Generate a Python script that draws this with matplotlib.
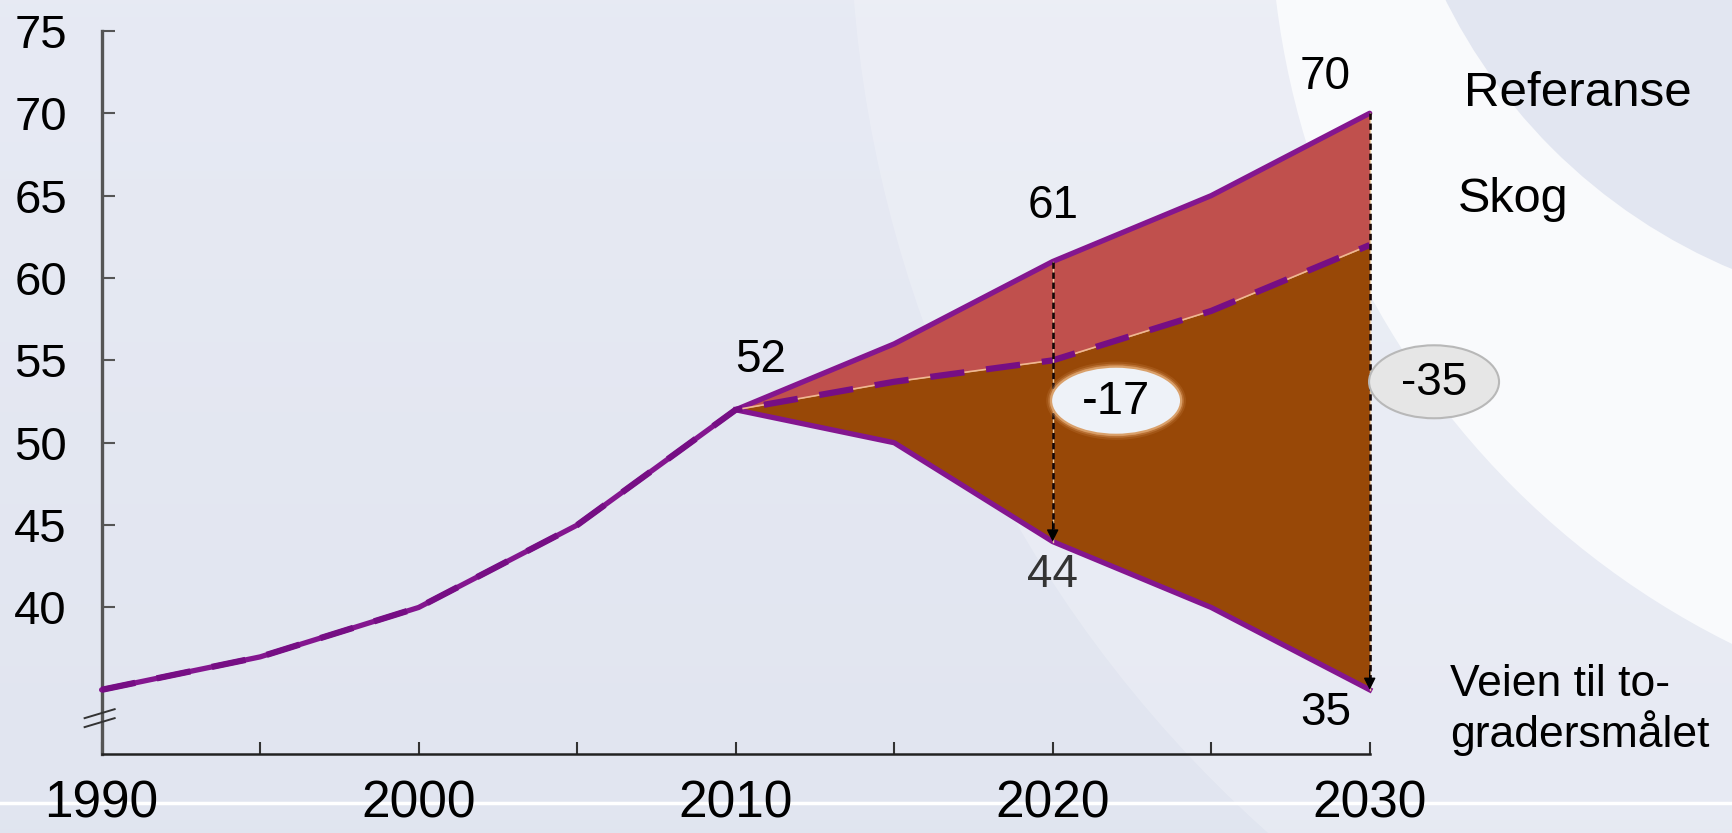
import matplotlib
matplotlib.use("Agg")
import matplotlib.pyplot as plt
from matplotlib.patches import Circle, Ellipse
import numpy as np

# Utslipp, historisk og fremskrevet (mill. tonn CO2-ekv.)
historiske_aar = [1990, 1995, 2000, 2005, 2010]
historisk = [35, 37, 40, 45, 52]

framtid_aar = [2010, 2015, 2020, 2025, 2030]
referanse = [52, 56, 61, 65, 70]
skog = [52, 53.7, 55, 58, 62]
tograder = [52, 50, 44, 40, 35]

y_ticks = [40, 45, 50, 55, 60, 65, 70, 75]
x_ticks = [1990, 1995, 2000, 2005, 2010, 2015, 2020, 2025, 2030]
x_tick_labels = ["1990", "", "2000", "", "2010", "", "2020", "", "2030"]

serie_navn = ["Referanse", "Skog", "Veien til to-\ngradersmålet"]

LILLA = "#84168F"
LILLA_MORK = "#760E84"
ROD = "#C0504D"
BRUN = "#984807"

plt.rcParams["font.family"] = ["Liberation Sans", "DejaVu Sans"]

W, H = 1732, 833
fig = plt.figure(figsize=(W / 100, H / 100), dpi=100)

# Bakgrunn: lavendel med lyse buer til høyre
bg = fig.add_axes([0, 0, 1, 1], zorder=-10)
bg.set_xlim(0, W)
bg.set_ylim(H, 0)
bg.axis("off")
grad = np.linspace(0, 1, 200)[:, None]
c_top = np.array([0.906, 0.918, 0.956])
c_bot = np.array([0.882, 0.898, 0.941])
img = c_top[None, None, :] * (1 - grad[..., None]) + c_bot[None, None, :] * grad[..., None]
img = np.repeat(img, 2, axis=1)
bg.imshow(img, extent=[0, W, H, 0], aspect="auto")
bg.add_patch(Circle((2100, -100), 1250, color="white", alpha=0.22, lw=0))
bg.add_patch(Circle((2100, -100), 830, color="#FAFBFD", alpha=0.95, lw=0))
bg.add_patch(Circle((1950, -250), 563, color="#E2E6F1", lw=0))
bg.plot([0, W], [803, 803], color="white", lw=2.5)

ax = fig.add_axes([101.6 / W, 1 - 754.4 / H, 1268.1 / W, 723.5 / H])
ax.set_facecolor("none")
ax.set_xlim(1990, 2030)
ax.set_ylim(31.08, 75)

# Arealer mellom banene
ax.fill_between(framtid_aar, skog, referanse, color=ROD, lw=0, zorder=1)
ax.fill_between(framtid_aar, tograder, skog, color=BRUN, lw=0, zorder=1)

# Linjer
ax.plot(historiske_aar + framtid_aar[1:], historisk + referanse[1:],
        color=LILLA, lw=3.8, solid_capstyle="round", zorder=3, clip_on=False)
ax.plot(framtid_aar, tograder, color=LILLA, lw=3.8, zorder=3, clip_on=False)
ax.plot(framtid_aar, skog, color="#F0B890", lw=1.2, zorder=3)
ax.plot(historiske_aar + framtid_aar[1:], historisk + skog[1:],
        color=LILLA_MORK, lw=4.5, dashes=(5.5, 3.5), zorder=4, clip_on=False)

# Stiplede piler for reduksjonene
i20 = framtid_aar.index(2020)
i30 = framtid_aar.index(2030)
for i in (i20, i30):
    x = framtid_aar[i]
    ax.plot([x, x], [referanse[i], tograder[i]], color="#E9C9A0", lw=1.0, zorder=5,
            clip_on=False)
    ax.plot([x, x], [referanse[i], tograder[i] + 0.6], color="#140505", lw=1.9,
            dashes=(2.4, 1.4), zorder=6, clip_on=False)
    ax.annotate("", xy=(x, tograder[i]), xytext=(x, tograder[i] + 1.2),
                arrowprops=dict(arrowstyle="-|>", color="black", lw=1,
                                mutation_scale=18, shrinkA=0, shrinkB=0),
                zorder=7, annotation_clip=False)

# Verdier ved punktene
ax.text(2010.8, historisk[-1] + 3.0, f"{historisk[-1]}", fontsize=33, ha="center", va="center")
ax.text(2020, referanse[i20] + 3.35, f"{referanse[i20]}", fontsize=33, ha="center", va="center")
ax.text(2028.6, referanse[i30] + 2.2, f"{referanse[i30]}", fontsize=33, ha="center", va="center")
ax.text(2020, tograder[i20] - 2.0, f"{tograder[i20]}", fontsize=33, ha="center", va="center",
        color="#333333")
ax.text(2028.6, tograder[i30] - 1.4, f"{tograder[i30]}", fontsize=33, ha="center", va="center")

# Ovaler med differansen
diff20 = referanse[i20] - tograder[i20]
diff30 = referanse[i30] - tograder[i30]
for k, a in zip([1.25, 1.15, 1.07], [0.15, 0.3, 0.5]):
    ax.add_patch(Ellipse((2022.0, 52.55), 4.1 * (1 + (k - 1) * 0.3), 4.13 * (1 + (k - 1) * 0.6),
                         facecolor="#E8A870", alpha=a, lw=0, zorder=7))
ax.add_patch(Ellipse((2022.0, 52.55), 4.1, 4.13, facecolor="#EEF2F8",
                     edgecolor="#D9A06A", lw=1.5, zorder=8))
ax.text(2022.0, 52.45, f"-{diff20}", fontsize=34, ha="center", va="center", zorder=9)
ax.add_patch(Ellipse((2032.03, 53.7), 4.1, 4.43, facecolor="#E6E6E6",
                     edgecolor="#B8B8B8", lw=1.5, zorder=8, clip_on=False))
ax.text(2032.03, 53.6, f"-{diff30}", fontsize=33, ha="center", va="center", zorder=9)

# Akser
for s in ("top", "right"):
    ax.spines[s].set_visible(False)
ax.spines["left"].set_color("#555555")
ax.spines["left"].set_linewidth(2.4)
ax.spines["bottom"].set_color("#222222")
ax.spines["bottom"].set_linewidth(1.8)
ax.set_yticks(y_ticks)
ax.set_yticklabels([str(v) for v in y_ticks])
ax.set_xticks(x_ticks)
ax.set_xticklabels(x_tick_labels)
ax.tick_params(axis="y", direction="in", length=9, width=1.5, color="#555555",
               labelsize=34, pad=25)
ax.tick_params(axis="x", direction="in", length=9, width=1.5, color="#333333",
               labelsize=37, pad=18)
for t in ax.get_xticklabels():
    t.set_fontfamily(["Liberation Sans Narrow", "Liberation Sans"])

# Brudd i y-aksen
for dy in (0.0, 0.0124):
    ax.plot([-0.0134, 0.0103], [0.0377 + dy, 0.0501 + dy], transform=ax.transAxes,
            color="#333333", lw=1.4, clip_on=False, zorder=10)

# Seriebeskrivelser til høyre
fig.text(1464 / W, 1 - 94 / H, serie_navn[0], fontsize=35.5, ha="left", va="center")
fig.text(1458 / W, 1 - 199 / H, serie_navn[1], fontsize=35, ha="left", va="center")
fig.text(1450 / W, 1 - 710 / H, serie_navn[2], fontsize=32, ha="left", va="center",
         linespacing=1.15)

fig.savefig("out.png", dpi=100)
